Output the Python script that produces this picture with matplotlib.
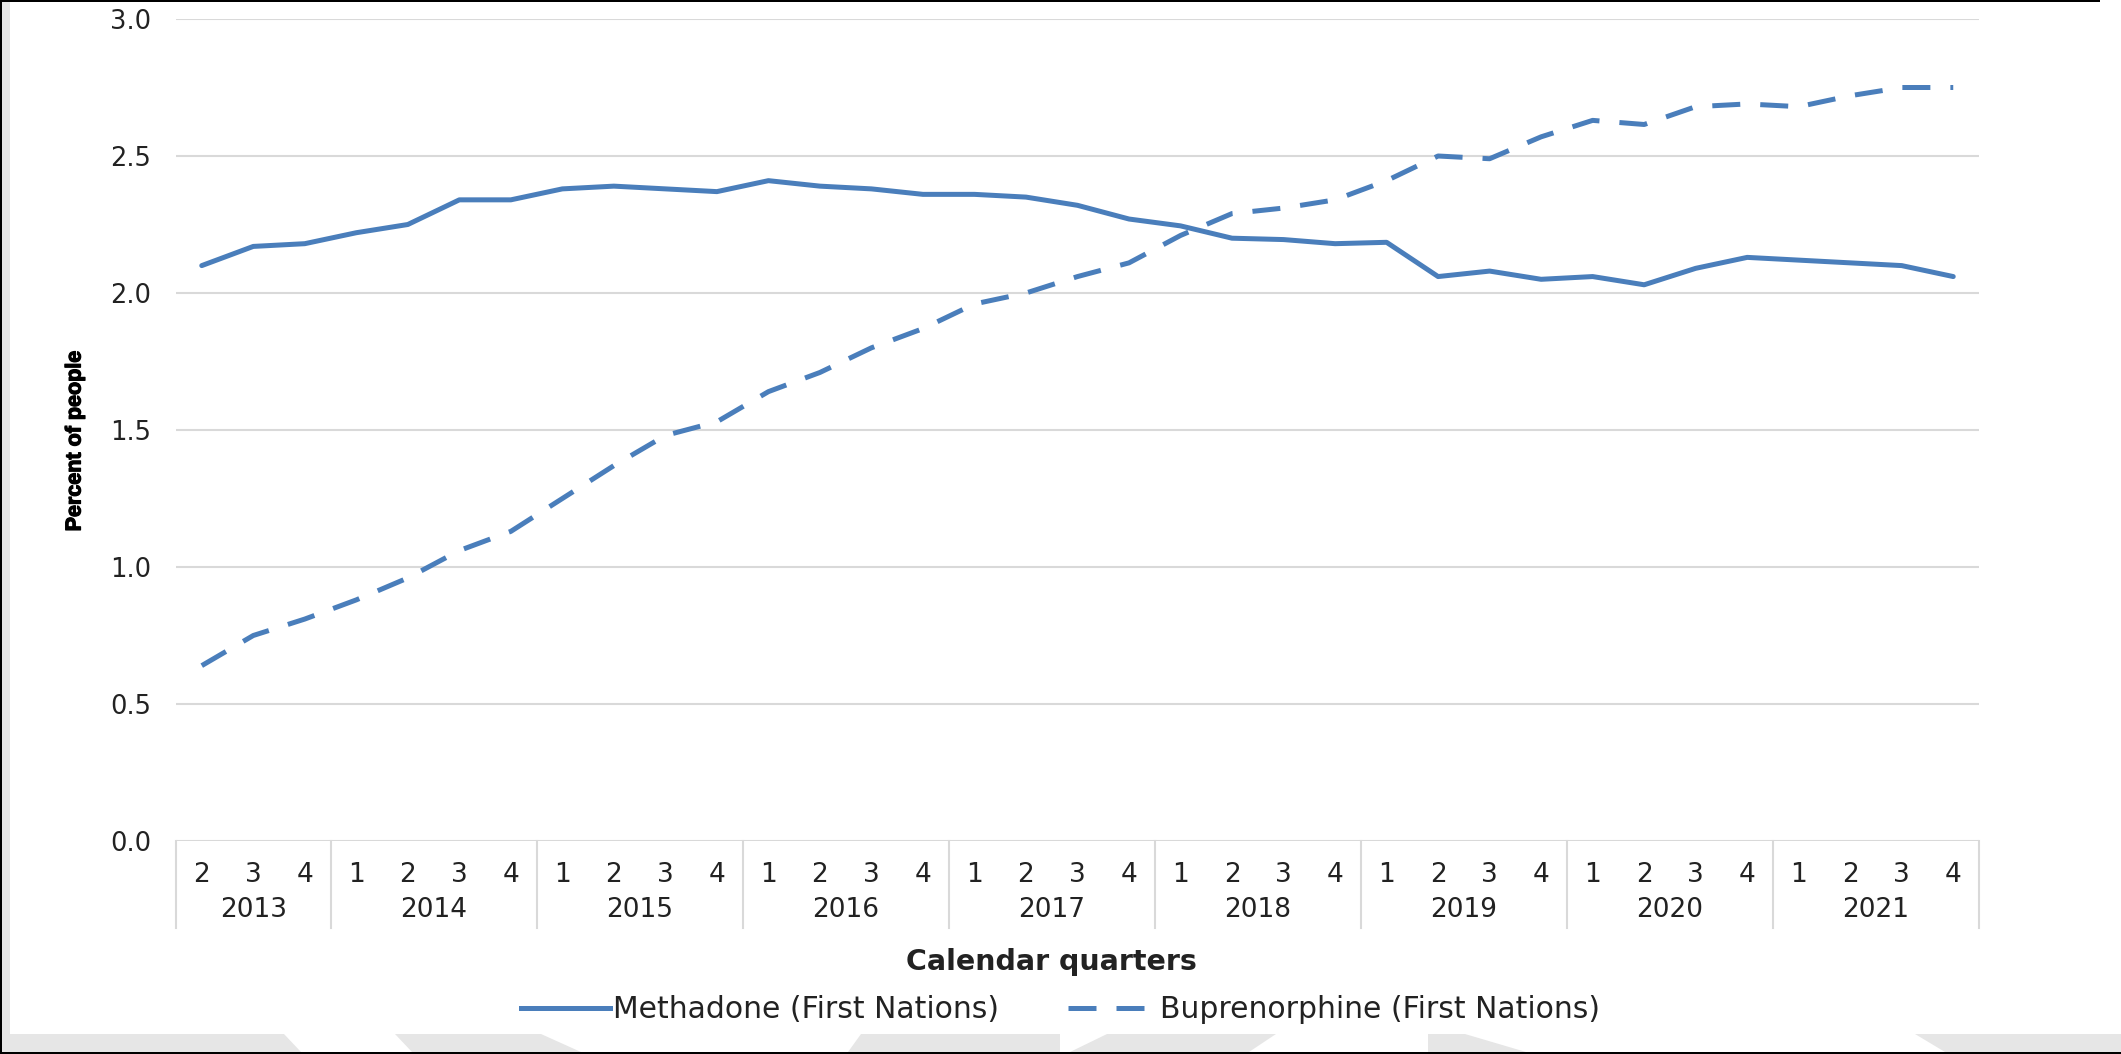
import matplotlib
matplotlib.use("Agg")
import matplotlib.pyplot as plt
import matplotlib.patheffects as pe
import matplotlib.transforms as mtransforms
from matplotlib import font_manager
from matplotlib.lines import Line2D
from matplotlib.patches import Polygon, Rectangle
from matplotlib.ticker import FormatStrFormatter, MultipleLocator
import numpy as np

# データ
years = ["2013", "2014", "2015", "2016", "2017", "2018", "2019", "2020", "2021"]
quarters_per_year = [3, 4, 4, 4, 4, 4, 4, 4, 4]
quarter_labels = ["2", "3", "4"] + ["1", "2", "3", "4"] * 8

methadone = [
    2.10, 2.17, 2.18, 2.22, 2.25, 2.34, 2.34, 2.38, 2.39, 2.38, 2.37,
    2.41, 2.39, 2.38, 2.36, 2.36, 2.35, 2.32, 2.27, 2.245, 2.20, 2.195,
    2.18, 2.185, 2.06, 2.08, 2.05, 2.06, 2.03, 2.09, 2.13, 2.12, 2.11,
    2.10, 2.06,
]
buprenorphine = [
    0.64, 0.75, 0.81, 0.88, 0.96, 1.06, 1.13, 1.25, 1.37, 1.48, 1.53,
    1.64, 1.71, 1.80, 1.87, 1.96, 2.00, 2.06, 2.11, 2.21, 2.29, 2.31,
    2.34, 2.41, 2.50, 2.49, 2.57, 2.63, 2.615, 2.68, 2.69, 2.68, 2.72,
    2.75, 2.75,
]

series_labels = ["Methadone (First Nations)", "Buprenorphine (First Nations)"]

LINE_COLOR = "#4a7ebb"
GRID_COLOR = "#d9d9d9"
TEXT_COLOR = "#222222"
FRAME_GRAY = "#e6e6e6"

W, H = 2121, 1054


def add_px_rect(fig, x0, y0, x1, y1, color, zorder=0):
    """ピクセル座標（上原点）で figure に矩形を追加する。"""
    fig.add_artist(Rectangle((x0 / W, 1 - y1 / H), (x1 - x0) / W, (y1 - y0) / H,
                             transform=fig.transFigure, color=color, lw=0,
                             zorder=zorder))


font_names = {f.name for f in font_manager.fontManager.ttflist}
if "Liberation Sans Narrow" in font_names:
    ylabel_family, ylabel_size = "Liberation Sans Narrow", 18
else:
    ylabel_family, ylabel_size = "Liberation Sans", 15.5

plt.rcParams["font.family"] = ["DejaVu Sans"]

fig = plt.figure(figsize=(W / 100, H / 100), dpi=100)
fig.patch.set_facecolor("white")

# 外枠（スクリーンショットの縁）
add_px_rect(fig, 0, 0, 10, H, FRAME_GRAY)
# 下部の灰色帯（透かしの切れ目あり）: (上左, 上右, 下左, 下右)
band_pieces = [
    (10, 284, 10, 301), (395, 541, 412, 581), (861, 1060, 848, 1060),
    (1107, 1276, 1070, 1249), (1428, 1465, 1428, 1526), (1915, 2121, 1945, 2121),
]
band_top, band_bot = 1034, 1052
for tl, tr, bl, br in band_pieces:
    pts = [(tl / W, 1 - band_top / H), (tr / W, 1 - band_top / H),
           (br / W, 1 - band_bot / H), (bl / W, 1 - band_bot / H)]
    fig.add_artist(Polygon(pts, closed=True, transform=fig.transFigure,
                           color=FRAME_GRAY, lw=0, zorder=0))
add_px_rect(fig, 0, 1052, W, H, "black", 1)
add_px_rect(fig, 0, 0, 2, H, "black", 1)
add_px_rect(fig, 0, 0, 2100, 2, "black", 1)

# プロット領域
ax = fig.add_axes([176 / W, 1 - 841 / H, (1979 - 176) / W, (841 - 19) / H])
ax.set_facecolor("none")

x = np.arange(len(quarter_labels))
ax.plot(x, methadone, color=LINE_COLOR, lw=3.6, solid_capstyle="round",
        solid_joinstyle="round", zorder=3)
ax.plot(x, buprenorphine, color=LINE_COLOR, lw=3.6, dashes=(5.6, 4.0),
        zorder=3)

ax.set_xlim(-0.5, len(quarter_labels) - 0.5)
ax.set_ylim(0, 3.0)
ax.yaxis.set_major_locator(MultipleLocator(0.5))
ax.yaxis.set_major_formatter(FormatStrFormatter("%.1f"))
ax.grid(axis="y", color=GRID_COLOR, lw=1.5)
ax.set_axisbelow(True)
for s in ax.spines.values():
    s.set_visible(False)

ax.set_xticks(x)
ax.set_xticklabels(quarter_labels)
ax.tick_params(axis="x", length=0, pad=15, labelsize=19, labelcolor=TEXT_COLOR)
ax.tick_params(axis="y", length=0, pad=18, labelsize=18.5, labelcolor=TEXT_COLOR)

# 年ラベルと区切り線
trans = mtransforms.blended_transform_factory(ax.transData, ax.transAxes)
bounds = np.concatenate([[0], np.cumsum(quarters_per_year)]) - 0.5
for b in bounds:
    ax.plot([b, b], [0, -0.106], transform=trans, color=GRID_COLOR, lw=1.5,
            clip_on=False)
for i, yr in enumerate(years):
    center = (bounds[i] + bounds[i + 1]) / 2
    ax.text(center, -0.084, yr, transform=trans, ha="center", va="center",
            fontsize=19, color=TEXT_COLOR)

fig.text(1051 / W, 1 - 962 / H, "Calendar quarters", ha="center", va="center",
         fontsize=20.5, fontweight="bold", color=TEXT_COLOR)
fig.text(75 / W, 1 - 441 / H, "Percent of people", ha="center", va="center",
         rotation=90, fontsize=ylabel_size, fontweight="bold",
         family=[ylabel_family, "DejaVu Sans"], color="black",
         path_effects=[pe.withStroke(linewidth=0.9, foreground="black")])

handles = [
    Line2D([], [], color=LINE_COLOR, lw=3.6),
    Line2D([], [], color=LINE_COLOR, lw=3.6, dashes=(5.6, 4.0)),
]
fig.legend(handles, series_labels, loc="center", bbox_to_anchor=(0.5, 1 - 1010 / H),
           ncol=2, frameon=False, fontsize=21.5, handlelength=3.0,
           handletextpad=0.1, columnspacing=2.3, labelcolor=TEXT_COLOR)

fig.savefig("out.png", dpi=100, facecolor="white")
